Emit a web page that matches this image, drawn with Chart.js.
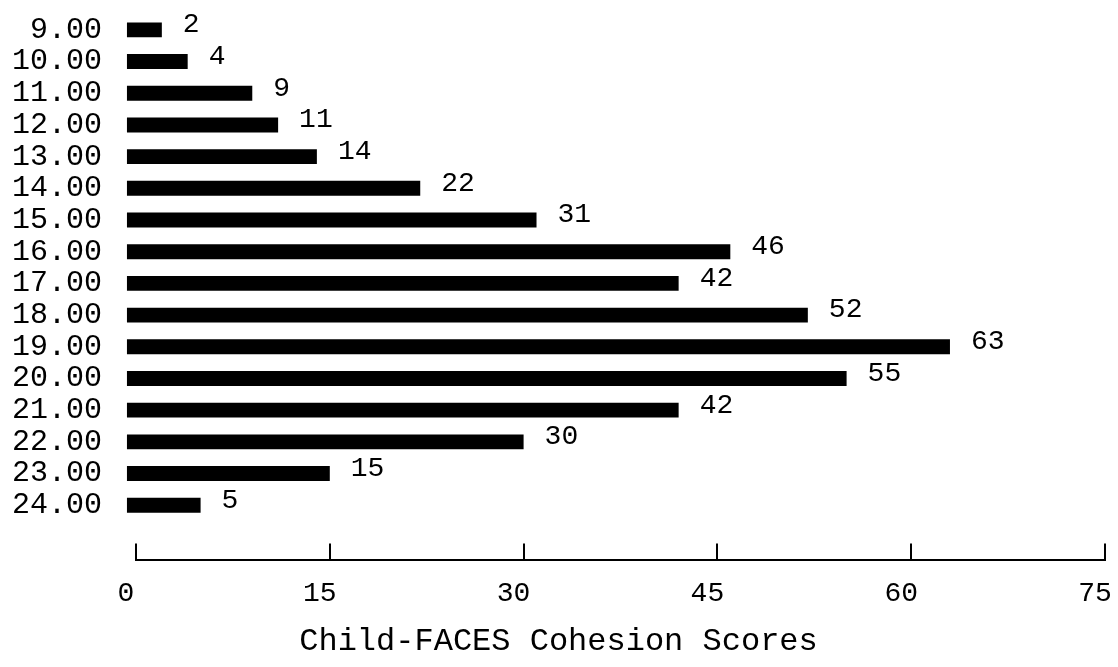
<!DOCTYPE html>
<html>
<head>
<meta charset="utf-8">
<script src="https://cdn.jsdelivr.net/npm/chart.js@4/dist/chart.umd.min.js"></script>
<style>
  html, body { margin:0; padding:0; background:#fff; }
  #wrap { width:1118px; height:667px; position:relative; }
</style>
</head>
<body>
<div id="wrap"><canvas id="chart"></canvas></div>
<script>
// ------------------ DATA ------------------
const scores = [9,10,11,12,13,14,15,16,17,18,19,20,21,22,23,24];
const scoreLabels = ["9.00","10.00","11.00","12.00","13.00","14.00","15.00","16.00",
                     "17.00","18.00","19.00","20.00","21.00","22.00","23.00","24.00"];
const counts = [2,4,9,11,14,22,31,46,42,52,63,55,42,30,15,5];
const xTicks = [0,15,30,45,60,75];
const axisTitle = "Child-FACES Cohesion Scores";

const FONT = "'Liberation Mono', 'DejaVu Sans Mono', monospace";

// ------------------ PLUGINS ------------------
// value labels at the end of each bar
const valueLabels = {
  id:'valueLabels',
  afterDatasetsDraw(chart){
    const ctx = chart.ctx;
    const meta = chart.getDatasetMeta(0);
    ctx.save();
    ctx.font = "28px " + FONT;
    ctx.fillStyle = "#000";
    ctx.textAlign = "left";
    ctx.textBaseline = "middle";
    meta.data.forEach((bar,i)=>{
      ctx.fillText(String(counts[i]), bar.x + 21, bar.y - 5);
    });
    ctx.restore();
  }
};

// short tick marks pointing up from the x axis line
const upTicks = {
  id:'upTicks',
  afterDraw(chart){
    const ctx = chart.ctx, xs = chart.scales.x, bottom = chart.chartArea.bottom;
    ctx.save();
    ctx.strokeStyle = "#000";
    ctx.lineWidth = 2;
    xs.ticks.forEach(t=>{
      const px = Math.round(xs.getPixelForValue(t.value));
      ctx.beginPath();
      ctx.moveTo(px, bottom);
      ctx.lineTo(px, bottom - 17);
      ctx.stroke();
    });
    ctx.restore();
  }
};

// ------------------ CHART ------------------
const ctx = document.getElementById('chart').getContext('2d');
new Chart(ctx,{
  type:'bar',
  data:{
    datasets:[{
      data: scores.map((s,i)=>({x:counts[i], y:s})),
      backgroundColor:'#000',
      borderWidth:0,
      base:-0.7,
      clip:false,
      barPercentage:0.47,
      categoryPercentage:1
    }]
  },
  options:{
    indexAxis:'y',
    responsive:true,
    maintainAspectRatio:false,
    animation:false,
    layout:{ padding:{ left:12, top:14, right:13, bottom:0 } },
    plugins:{
      legend:{display:false},
      tooltip:{enabled:false},
      title:{
        display:true, position:'bottom', text:axisTitle, color:'#000',
        font:{family:FONT, size:32, weight:'normal', lineHeight:1.0},
        padding:{top:0, bottom:9}
      }
    },
    scales:{
      x:{
        type:'linear', min:0, max:75,
        afterBuildTicks(s){ s.ticks = xTicks.map(v=>({value:v})); },
        afterFit(s){ s.paddingLeft = 0; s.paddingRight = 0; },
        grid:{display:false, drawTicks:false},
        border:{display:true, color:'#000', width:2},
        ticks:{color:'#000', padding:16, labelOffset:-10, maxRotation:0,
               font:{family:FONT, size:28}}
      },
      y:{
        type:'linear', reverse:true, offset:false, min:8.5, max:25.74,
        afterBuildTicks(s){ s.ticks = scores.map(v=>({value:v})); },
        afterFit(s){ s.width = 124; s.paddingTop = 0; s.paddingBottom = 0; },
        grid:{display:false, drawTicks:false},
        border:{display:false},
        ticks:{color:'#000', padding:34, autoSkip:false,
               font:{family:FONT, size:30},
               callback:(v)=>scoreLabels[scores.indexOf(v)]}
      }
    }
  },
  plugins:[valueLabels, upTicks]
});
</script>
</body>
</html>
